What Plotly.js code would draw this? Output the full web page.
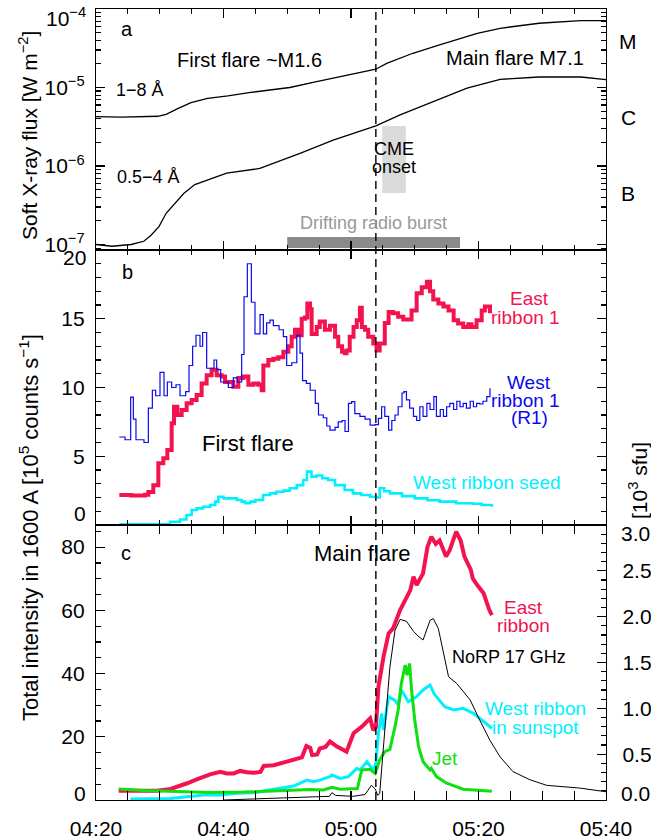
<!DOCTYPE html>
<html><head><meta charset="utf-8">
<script src="https://cdn.plot.ly/plotly-3.0.1.min.js"></script>
<style>html,body{margin:0;padding:0;background:#fff}#chart{width:651px;height:840px}</style>
</head><body><div id="chart"></div>
<script>
// ================= DATA (time = minutes after 04:20 UT) =================
const xTickLabels = ['04:20','04:40','05:00','05:20','05:40'];
const logTickLabels = ['10<sup>−7</sup>','10<sup>−6</sup>','10<sup>−5</sup>','10<sup>−4</sup>'];
const goesClasses = ['M','C','B'];

// Panel a: GOES soft X-ray flux [W m^-2]
const goesLong = [ // 1-8 A
 [0,4.25e-6],[4,4.2e-6],[9.7,4.3e-6],[11.0,4.56e-6],[12.9,5.43e-6],[14.9,6.4e-6],[17.5,7.28e-6],
 [20.7,7.8e-6],[24.0,8.6e-6],[26.8,9.1e-6],[30.4,1.0e-5],[34.6,1.19e-5],[39.8,1.44e-5],[43.9,1.71e-5],
 [45.6,2.03e-5],[49.7,2.73e-5],[53.9,3.48e-5],[59.8,4.9e-5],[63.4,5.68e-5],[69.5,6.58e-5],[76,7.1e-5],[80,7.1e-5]];
const goesShort = [ // 0.5-4 A
 [0,1.0e-7],[2.5,9.5e-8],[5.5,1.0e-7],[7.5,1.1e-7],[8.6,1.3e-7],[9.9,1.7e-7],[11.0,2.5e-7],[12.4,3.4e-7],
 [13.8,4.5e-7],[15.5,5.8e-7],[17.5,6.6e-7],[20.5,8.1e-7],[25.7,9.3e-7],[29.3,1.19e-6],[32.0,1.45e-6],
 [37.2,2.14e-6],[41.4,2.74e-6],[43.9,3.24e-6],[47.7,4.47e-6],[52.9,6.6e-6],[58.2,9.8e-6],[63.4,1.27e-5],
 [69.5,1.36e-5],[76.1,1.36e-5],[80,1.26e-5]];
const cmeOnset = [44.9, 48.6];              // minutes
const radioBurst = [30.0, 57.1];            // minutes
const dashedTime = 43.9;                    // minutes

// Panel b: 1600 A total intensity [1e5 counts/s]
const eastRibbon1 = [
 [3.66,2.18],[5.5,2.15],[7.69,2.2],[8.21,2.4],[8.99,2.9],[9.78,4.5],[10.56,4.85],[11.19,5.45],[11.87,7.4],
 [12.24,8.6],[12.76,8.0],[13.44,8.36],[14.22,8.85],[15.0,9.1],[15.79,9.45],[16.57,10.3],[17.36,10.9],
 [18.14,11.3],[18.93,10.9],[19.71,10.8],[20.24,10.4],[21.54,10.06],[22.33,10.7],[23.11,10.8],[23.9,10.2],
 [24.68,10.3],[25.46,10.2],[25.99,9.8],[26.25,11.6],[27.03,12.0],[27.82,12.1],[28.6,12.2],[29.39,12.6],
 [30.17,13.0],[30.69,13.7],[31.22,14.2],[31.74,13.8],[32.27,15.0],[32.78,15.1],[33.15,16.1],[33.57,15.7],
 [33.83,13.9],[34.62,14.4],[35.1,14.8],[35.9,14.2],[36.7,14.5],[37.5,13.7],[38.0,13.0],[38.6,12.6],
 [39.06,12.5],[39.3,12.7],[39.8,13.7],[40.4,14.4],[40.9,14.9],[41.4,15.8],[41.7,14.4],[42.2,14.2],
 [42.7,13.7],[43.5,13.2],[44.0,12.7],[44.5,13.2],[45.3,14.7],[45.9,15.5],[46.6,15.4],[47.4,15.15],
 [48.2,14.95],[48.7,14.95],[49.5,15.6],[50.3,16.85],[51.1,17.3],[51.9,17.7],[52.4,17.0],[52.9,16.4],
 [53.7,16.1],[54.5,15.9],[55.3,15.6],[56.1,14.9],[56.8,14.65],[57.6,14.4],[58.4,14.6],[58.9,14.4],
 [59.7,14.9],[60.5,15.6],[61.0,15.9],[61.8,15.4]];
const westRibbon1 = [
 [3.66,6.4],[4.55,6.2],[5.44,9.3],[5.86,7.7],[6.27,6.2],[7.53,6.0],[8.21,8.5],[8.84,9.8],[9.36,9.4],
 [10.04,11.1],[10.67,9.4],[11.19,10.4],[11.87,10.0],[12.55,10.2],[13.18,9.4],[14.07,9.7],[14.59,11.6],
 [15.16,13.0],[15.69,13.8],[16.31,13.0],[16.73,14.0],[17.36,11.4],[18.51,12.0],[18.93,11.3],[19.56,10.4],
 [20.76,10.0],[21.54,10.7],[22.17,10.4],[22.85,12.4],[23.22,16.6],[23.74,19.0],[24.37,16.2],[24.94,13.9],
 [25.73,15.3],[26.25,13.9],[26.77,14.7],[27.29,14.9],[27.82,14.5],[28.71,14.2],[29.39,13.7],[29.91,11.6],
 [30.7,11.8],[31.5,13.8],[32.0,12.5],[32.4,10.5],[33.0,10.3],[33.6,9.8],[34.4,8.85],[34.9,8.0],
 [35.66,7.8],[36.2,7.2],[36.7,6.9],[37.5,7.1],[38.0,7.5],[38.6,7.6],[39.06,6.8],[39.6,8.85],[40.1,8.97],
 [40.6,8.1],[41.4,7.9],[42.2,7.7],[43.0,7.27],[43.8,7.3],[44.3,7.76],[44.8,8.6],[45.3,7.9],[45.9,6.9],
 [46.4,7.6],[46.9,8.0],[47.4,8.6],[48.0,9.6],[48.3,9.7],[48.7,9.1],[49.2,8.5],[49.8,7.9],[50.3,7.6],
 [50.8,8.6],[51.3,7.9],[51.9,8.85],[52.4,8.4],[53.0,9.33],[53.4,7.9],[54.0,8.4],[54.5,7.9],[55.0,8.6],
 [55.5,8.85],[56.1,8.4],[56.6,9.0],[57.1,8.6],[57.6,8.85],[58.1,8.5],[58.7,9.0],[59.2,8.6],[59.7,8.85],
 [60.2,8.8],[60.7,9.0],[61.3,9.33],[61.8,9.94]];
const westRibbonSeed = [
 [3.66,0.06],[9.5,0.06],[11.6,0.24],[13.2,0.4],[14.2,0.73],[15.0,1.09],[15.8,1.21],[16.8,1.33],[17.9,1.45],
 [18.7,1.7],[19.2,2.06],[20.0,1.94],[21.0,1.94],[22.1,1.82],[22.85,1.7],[23.4,1.58],[24.2,1.7],[25.0,1.82],
 [26.2,2.18],[27.3,2.3],[28.3,2.42],[29.4,2.5],[30.4,2.67],[31.5,2.9],[32.5,3.27],[33.1,3.88],[33.8,3.52],
 [34.6,3.6],[35.5,3.4],[36.4,3.27],[37.5,2.9],[39.0,2.55],[40.3,2.3],[41.6,2.18],[43.0,2.05],[43.9,2.01],
 [44.5,2.67],[45.2,2.45],[46.1,2.3],[48.0,2.1],[50.0,1.94],[52.0,1.8],[53.9,1.7],[56.5,1.58],[59.1,1.55],
 [60.5,1.45],[62.1,1.33]];

// Panel c
const eastRibbon = [
 [3.56,2.95],[9.6,2.9],[11.7,3.5],[13.2,4.4],[14.3,5.3],[15.8,6.5],[16.9,7.4],[17.9,8.1],[19.5,8.95],
 [20.5,8.4],[21.6,8.4],[22.6,9.2],[23.7,8.8],[24.7,8.6],[25.8,8.9],[26.3,10.75],[27.9,11.0],[29.4,11.8],
 [31.0,12.9],[32.3,13.5],[33.0,17.1],[33.6,16.5],[33.9,14.2],[34.7,14.4],[35.1,16.3],[36.0,16.8],[36.7,18.5],
 [37.8,16.9],[39.3,15.3],[40.4,21.1],[41.7,23.2],[43.0,25.8],[43.5,22.1],[43.9,23.0],[44.3,35.8],[45.1,45.3],
 [45.9,52.7],[46.6,54.3],[47.7,60.1],[49.3,66.4],[49.8,70.6],[50.3,68.0],[51.3,71.7],[52.0,80.1],[52.6,83.3],
 [53.3,81.0],[53.9,82.1],[54.9,77.0],[55.5,79.1],[56.5,84.9],[57.2,82.1],[57.8,77.0],[58.8,72.8],[59.1,70.1],
 [59.8,68.0],[60.8,65.4],[61.7,60.1],[62.1,58.5]];
const westRibbonSunspot = [
 [5.4,0.3],[9.0,0.3],[11.7,0.5],[14.3,1.05],[16.9,1.6],[19.5,1.6],[22.1,2.1],[24.7,2.3],[26.8,3.0],[28.4,3.7],
 [31.0,4.4],[33.1,6.3],[34.1,5.8],[35.1,6.3],[36.7,7.4],[37.0,7.9],[38.3,6.85],[39.6,7.4],[40.9,10.0],[41.4,9.5],
 [42.5,12.1],[43.5,9.5],[43.9,11.6],[44.3,21.1],[44.8,27.4],[45.1,22.1],[45.9,32.7],[46.9,31.5],[47.4,30.1],
 [47.9,34.8],[49.0,31.1],[50.3,32.7],[51.3,34.8],[52.4,36.4],[53.0,33.7],[53.4,32.7],[54.7,29.5],[56.1,28.5],
 [57.6,29.0],[59.2,27.4],[60.8,24.8],[62.1,22.7]];
const jet = [
 [3.56,3.5],[7.5,3.0],[12.7,2.7],[17.9,2.4],[23.2,2.5],[28.4,2.8],[33.6,3.3],[35.7,3.15],[37.0,4.0],[38.3,3.4],
 [41.0,3.6],[41.7,9.5],[43.0,9.7],[43.8,8.4],[44.5,12.65],[45.3,15.3],[46.1,16.0],[46.9,23.2],[47.4,28.5],
 [47.9,36.9],[48.5,42.7],[48.8,39.5],[49.2,43.2],[49.5,34.8],[50.0,25.3],[50.6,16.9],[51.3,12.1],[52.4,9.5],
 [52.6,10.0],[53.4,7.4],[55.0,5.3],[57.6,3.4],[62.1,2.8]];
const norp17 = [ // 10^3 sfu
 [20,0.0],[30.5,0.02],[34.4,0.035],[36.6,0.04],[37.0,0.08],[37.6,0.05],[40.3,0.04],[42.2,0.06],[43.2,0.16],
 [43.8,0.12],[44.2,0.05],[44.5,0.07],[45.3,0.76],[46.1,1.45],[46.9,1.85],[47.7,1.97],[48.7,1.95],[49.8,1.84],
 [50.5,1.79],[51.3,1.745],[52.4,1.96],[52.9,1.98],[53.7,1.87],[54.5,1.6],[55.3,1.345],[56.6,1.27],[58.7,1.09],
 [60.2,0.87],[61.8,0.65],[63.4,0.47],[65.4,0.31],[68.1,0.22],[70.7,0.16],[75.9,0.13],[80,0.09]];

// ================= DRAWING =================
const BASE = Date.UTC(2014,0,1,4,20,0);
const toTime = m => new Date(BASE + m*60000).toISOString().replace('T',' ').replace('Z','');
const X = arr => arr.map(p => toTime(p[0]));
const Y = arr => arr.map(p => p[1]);

const F = 'Liberation Sans, Arial, Helvetica, sans-serif';
const RED = '#f2134f', BLUE = '#0a0aee', CYAN = '#00f0ff', GREEN = '#10e010';

const ML = 96, MR = 45, MT = 9, MB = 40, W = 651, H = 840;
const PW = W - ML - MR, PH = H - MT - MB;
const px = x => (x - ML) / PW, py = y => (H - MB - y) / PH;
const dA = [py(250), 1], dB = [py(525), py(250)], dC = [0, py(525)];

function tr(data, xa, ya, color, width, shape) {
  return {x: X(data), y: Y(data), xaxis: xa, yaxis: ya, type: 'scatter', mode: 'lines',
          line: {color, width, shape: shape || 'linear'}, hoverinfo: 'skip'};
}
const traces = [
  tr(goesLong, 'x', 'y', '#000', 1.3),
  tr(goesShort, 'x', 'y', '#000', 1.3),
  tr(eastRibbon1, 'x2', 'y2', RED, 4, 'hv'),
  tr(westRibbonSeed, 'x2', 'y2', CYAN, 2.6, 'hv'),
  tr(westRibbon1, 'x2', 'y2', BLUE, 1.2, 'hv'),
  tr(eastRibbon, 'x3', 'y3', RED, 4),
  tr(westRibbonSunspot, 'x3', 'y3', CYAN, 3),
  tr(jet, 'x3', 'y3', GREEN, 3),
  tr(norp17, 'x3', 'y4', '#000', 1)
];

const base = {showline: true, linecolor: '#000', linewidth: 1.2, ticks: 'inside', tickcolor: '#000',
  tickwidth: 1.2, ticklen: 9, showgrid: false, zeroline: false, mirror: 'allticks',
  tickfont: {family: F, size: 21, color: '#000'}};
const minorTicks = dt => ({ticks: 'inside', ticklen: 5, tickcolor: '#000', tickwidth: 1.2, dtick: dt});
function xax(anchor, labels) {
  return Object.assign({}, base, {type: 'date', anchor, domain: [0, 1],
    range: [toTime(0), toTime(80)], tickmode: 'array',
    tickvals: xTickLabels.map((_, i) => toTime(i * 20)), ticktext: xTickLabels,
    showticklabels: labels, ticklabelstandoff: 10,
    minor: Object.assign(minorTicks(300000), {tick0: toTime(0)})});
}
const logMinor = [];
for (let d = -8; d <= -5; d++) for (let k = 2; k <= 9; k++) logMinor.push(k * Math.pow(10, d));

const layout = {
  width: W, height: H, margin: {l: ML, r: MR, t: MT, b: MB, pad: 0},
  paper_bgcolor: '#fff', plot_bgcolor: 'rgba(0,0,0,0)', showlegend: false,
  font: {family: F, color: '#000'},
  xaxis: xax('y', false), xaxis2: xax('y2', false), xaxis3: xax('y3', true),
  yaxis: Object.assign({}, base, {domain: dA, anchor: 'x', type: 'log', range: [-7.07, -4],
    tickmode: 'array', tickvals: [1e-7, 1e-6, 1e-5], ticktext: logTickLabels.slice(0, 3),
    ticklabelstandoff: 6,
    minor: {ticks: 'inside', ticklen: 5, tickcolor: '#000', tickwidth: 1.2, tickmode: 'array', tickvals: logMinor}}),
  yaxis2: Object.assign({}, base, {domain: dB, anchor: 'x2', range: [0, 20], tickmode: 'array',
    tickvals: [5, 10, 15], ticktext: ['5', '10', '15'], ticklabelstandoff: 6, minor: minorTicks(1)}),
  yaxis3: Object.assign({}, base, {domain: dC, anchor: 'x3', range: [0, 87], tickmode: 'array',
    tickvals: [20, 40, 60, 80], ticktext: ['20', '40', '60', '80'], ticklabelstandoff: 6,
    mirror: true, minor: minorTicks(5)}),
  yaxis4: Object.assign({}, base, {overlaying: 'y3', anchor: 'x3', side: 'right', range: [0, 3.0],
    mirror: false, tickmode: 'array', tickvals: [0.5, 1, 1.5, 2, 2.5],
    ticktext: ['0.5', '1.0', '1.5', '2.0', '2.5'], ticklabelstandoff: 11, minor: minorTicks(0.1)}),
  shapes: [
    {type: 'rect', xref: 'x', yref: 'y domain', x0: toTime(cmeOnset[0]), x1: toTime(cmeOnset[1]),
     y0: 0.2365, y1: 0.5145, fillcolor: '#dadada', line: {width: 0}, layer: 'below'},
    {type: 'rect', xref: 'x', yref: 'y domain', x0: toTime(radioBurst[0]), x1: toTime(radioBurst[1]),
     y0: 0.0083, y1: 0.054, fillcolor: '#8a8a8a', line: {width: 0}, layer: 'below'},
    {type: 'line', xref: 'x', yref: 'paper', x0: toTime(dashedTime), x1: toTime(dashedTime), y0: 0, y1: 1,
     line: {color: '#000', width: 1.4, dash: '8px,5px'}}
  ],
  annotations: []
};

function ann(text, x, y, size, color, extra) {
  layout.annotations.push(Object.assign({text, xref: 'paper', yref: 'paper', x: px(x), y: py(y),
    showarrow: false, xanchor: 'center', yanchor: 'middle',
    font: {family: F, size: size, color: color || '#000'}}, extra || {}));
}
// end tick labels (shifted inward as in the reference)
ann(logTickLabels[3], 88, 17, 21, '#000', {xanchor: 'right'});
ann('20', 88, 257, 21, '#000', {xanchor: 'right'});
ann('0', 88, 513, 21, '#000', {xanchor: 'right'});
ann('0', 88, 793, 21, '#000', {xanchor: 'right'});
ann('3.0', 619, 533, 21, '#000', {xanchor: 'left'});
ann('0.0', 619, 793, 21, '#000', {xanchor: 'left'});
// axis titles
ann('Soft X-ray flux [W m<sup>−2</sup>]', 28, 136, 21, '#000', {textangle: -90});
ann('Total intensity in 1600 A [10<sup>5</sup> counts s<sup>−1</sup>]', 29, 528, 22, '#000', {textangle: -90});
ann('[10<sup>3</sup> sfu]', 638, 481, 21, '#000', {textangle: -90});
// panel a
ann('a', 127, 29, 20);
ann('First flare ~M1.6', 249, 60, 20);
ann('Main flare M7.1', 515, 58, 20);
ann('1−8 Å', 140, 90, 18);
ann('0.5−4 Å', 148, 177, 18);
ann('CME', 394, 149, 18);
ann('onset', 394, 167, 18);
ann('Drifting radio burst', 373, 223, 18, '#999');
ann(goesClasses[0], 628, 41, 21);
ann(goesClasses[1], 628, 117, 21);
ann(goesClasses[2], 628, 193, 21);
// panel b
ann('b', 127, 272, 20);
ann('First flare', 248, 443, 22);
ann('East', 529, 298, 19, RED);
ann('ribbon 1', 525, 317, 19, RED);
ann('West', 529, 382, 19, BLUE);
ann('ribbon 1', 525, 400, 19, BLUE);
ann('(R1)', 529, 418, 19, BLUE);
ann('West ribbon seed', 487, 483, 19, CYAN);
// panel c
ann('c', 126, 553, 20);
ann('Main flare', 362, 553, 22);
ann('East', 523, 607, 19, RED);
ann('ribbon', 523, 625, 19, RED);
ann('NoRP 17 GHz', 509, 657, 18);
ann('West ribbon', 535, 708, 19, CYAN);
ann('in sunspot', 535, 727, 19, CYAN);
ann('Jet', 445, 758, 19, GREEN);

Plotly.newPlot('chart', traces, layout, {staticPlot: true, displayModeBar: false});
</script>
</body></html>
